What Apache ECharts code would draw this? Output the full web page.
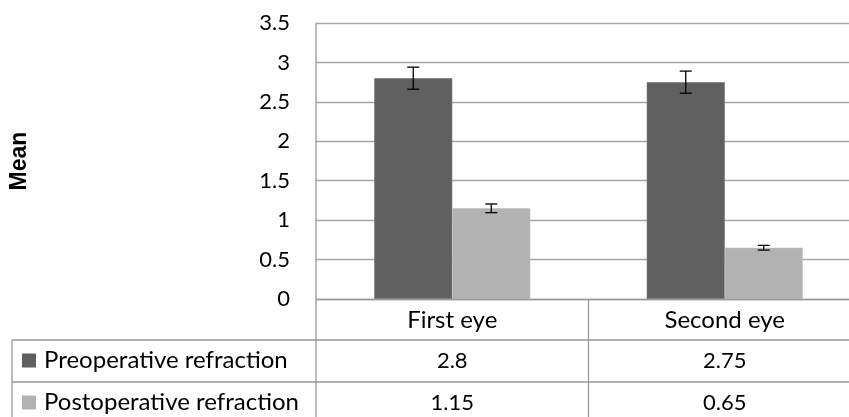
<!DOCTYPE html>
<html><head><meta charset="utf-8">
<script src="https://cdn.jsdelivr.net/npm/echarts@6/dist/echarts.min.js"></script>
<style>html,body{margin:0;padding:0;background:#fff;overflow:hidden;width:849px;height:417px}#c{width:861px;height:417px}</style>
</head><body><div id="c"></div>
<script>
const categories = ['First eye', 'Second eye'];
const seriesNames = ['Preoperative refraction', 'Postoperative refraction'];
const preValues = [2.8, 2.75];
const postValues = [1.15, 0.65];
const preErrors = [0.14, 0.14];
const postErrors = [0.055, 0.03];
const yTicks = { min: 0, max: 3.5, interval: 0.5 };

const colors = ['#606060', '#b2b2b2'];
const FONT = 'Lato';
const gridColor = '#a6a6a6';
const BAR_W = 78;

const chart = echarts.init(document.getElementById('c'), null, { renderer: 'canvas' });

function errSeries(vals, errs, dir) {
  return {
    type: 'custom',
    z: 10,
    data: vals.map((v, i) => [i, v - errs[i], v + errs[i]]),
    renderItem: function (params, api) {
      const lo = api.coord([api.value(0), api.value(1)]);
      const hi = api.coord([api.value(0), api.value(2)]);
      const x = lo[0] + dir * BAR_W / 2;
      const cap = 6;
      const st = { stroke: '#000', lineWidth: 1.3 };
      return {
        type: 'group',
        children: [
          { type: 'line', shape: { x1: x, y1: lo[1], x2: x, y2: hi[1] }, style: st },
          { type: 'line', shape: { x1: x - cap, y1: lo[1], x2: x + cap, y2: lo[1] }, style: st },
          { type: 'line', shape: { x1: x - cap, y1: hi[1], x2: x + cap, y2: hi[1] }, style: st }
        ]
      };
    }
  };
}

const option = {
  animation: false,
  grid: { left: 314, right: 0, top: 23, bottom: 118, containLabel: false },
  xAxis: {
    type: 'category',
    data: categories,
    axisLine: { show: false },
    axisTick: { show: false },
    axisLabel: { fontFamily: FONT, fontSize: 24, color: '#000', margin: 9 },
    splitLine: { show: false }
  },
  yAxis: {
    type: 'value',
    min: yTicks.min, max: yTicks.max, interval: yTicks.interval,
    axisLine: { show: false },
    axisTick: { show: false },
    axisLabel: { fontFamily: FONT, fontSize: 22, color: '#000', margin: 26 },
    splitLine: { lineStyle: { color: gridColor, width: 1.3 } },
    name: 'Mean',
    nameLocation: 'middle',
    nameGap: 285,
    nameRotate: 90,
    nameTextStyle: { fontFamily: 'Liberation Sans', fontWeight: 'bold', fontSize: 23, color: '#000' }
  },
  series: [
    { name: seriesNames[0], type: 'bar', data: preValues, barWidth: BAR_W, barGap: '0%',
      itemStyle: { color: colors[0], borderColor: '#707070', borderWidth: 0.6 } },
    { name: seriesNames[1], type: 'bar', data: postValues, barWidth: BAR_W, barGap: '0%',
      itemStyle: { color: colors[1], borderColor: '#bdbdbd', borderWidth: 0.6 } },
    errSeries(preValues, preErrors, -1),
    errSeries(postValues, postErrors, 1)
  ]
};
chart.setOption(option);

// Data table below the plot
const lineColor = '#999999';
const lw = 1.3;
const x0 = chart.convertToPixel({ xAxisIndex: 0 }, 0);
const x1 = chart.convertToPixel({ xAxisIndex: 0 }, 1);
const band = x1 - x0;
const plotLeft = x0 - band / 2;
const mid = x0 + band / 2;
const y0 = chart.convertToPixel({ yAxisIndex: 0 }, 0);
const row1 = 340, row2 = 382, rowH = 41;
const tableLeft = 12;
const W = 861;
const g = [];
function ln(a, b, c, d) {
  g.push({ type: 'line', shape: { x1: a, y1: b, x2: c, y2: d }, style: { stroke: lineColor, lineWidth: lw }, z: 20 });
}
ln(plotLeft, y0 + 0.5, W, y0 + 0.5);
ln(plotLeft, 23, plotLeft, 417);
ln(mid, y0, mid, 417);
ln(tableLeft, row1, W, row1);
ln(tableLeft, row2, W, row2);
ln(tableLeft, row1, tableLeft, 417);
const rows = [preValues, postValues];
[row1, row2].forEach((ry, r) => {
  const cy = ry + rowH / 2;
  g.push({ type: 'rect', shape: { x: 22, y: cy - 7, width: 14, height: 14 }, style: { fill: colors[r] }, z: 20 });
  g.push({ type: 'text', x: 44, y: cy, style: { text: seriesNames[r], fontFamily: FONT, fontSize: 24, fill: '#000', verticalAlign: 'middle' }, z: 20 });
  rows[r].forEach((v, i) => {
    const cx = chart.convertToPixel({ xAxisIndex: 0 }, i);
    g.push({ type: 'text', x: cx, y: cy, style: { text: String(v), fontFamily: FONT, fontSize: 22, fill: '#000', align: 'center', verticalAlign: 'middle' }, z: 20 });
  });
});
chart.setOption({ graphic: g });
</script>
</body></html>
